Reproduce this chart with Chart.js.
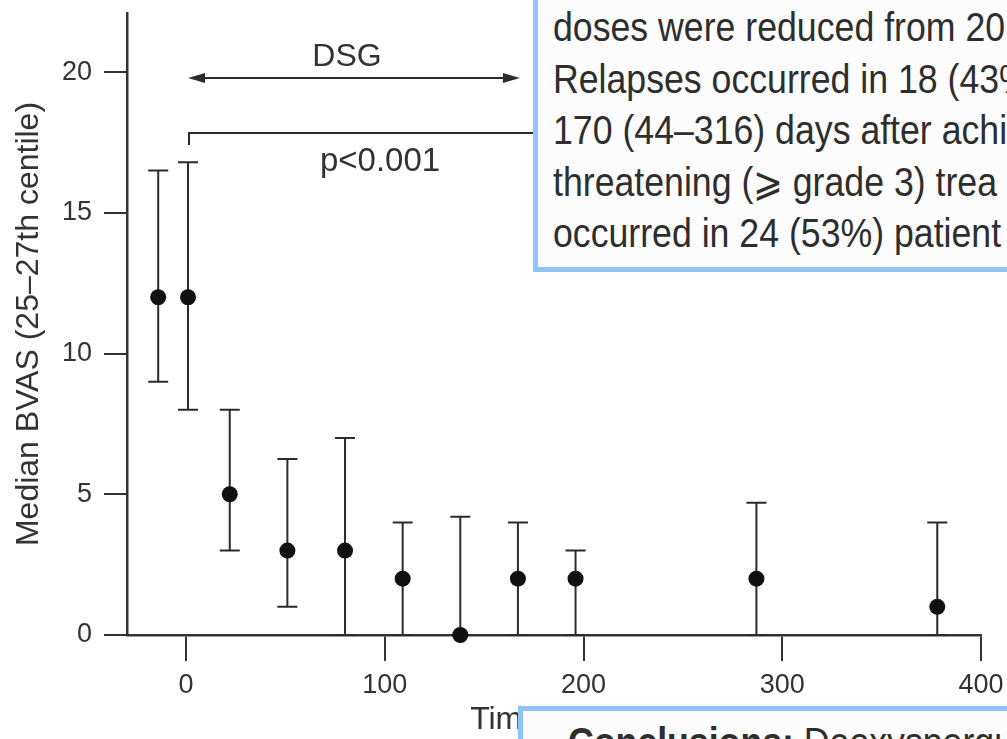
<!DOCTYPE html>
<html>
<head>
<meta charset="utf-8">
<script src="https://cdn.jsdelivr.net/npm/chart.js@4.4.1/dist/chart.umd.min.js"></script>
<style>
  html, body { margin: 0; padding: 0; background: #fff; overflow: hidden; }
  #page { position: relative; width: 1007px; height: 739px; overflow: hidden; }
  #wrap { position: absolute; left: 0; top: 0; width: 1007px; height: 739px; }
  .box { position: absolute; box-sizing: border-box; border: 5px solid #8fc4f8; background: #fcfcfc; }
  .txt { position: absolute; white-space: nowrap; font-family: 'Liberation Sans', Arial, sans-serif;
         font-size: 41px; line-height: 51.5px; color: #2e2e2e; transform: scaleX(0.87); transform-origin: 0 0; }
</style>
</head>
<body>
<div id="page">
  <div id="wrap"><canvas id="chart"></canvas></div>
  <div class="box" style="left:533px; top:-30px; width:600px; height:302px;"></div>
  <div class="txt" style="left:553px; top:2px;">
    <div>doses were reduced from 20</div>
    <div>Relapses occurred in 18 (43%</div>
    <div>170 (44–316) days after achi</div>
    <div>threatening (⩾ grade 3) trea</div>
    <div>occurred in 24 (53%) patient</div>
  </div>
  <div class="box" style="left:518px; top:706px; width:600px; height:100px;"></div>
  <div class="txt" style="left:568px; top:717px;"><b>Conclusions:</b> Deoxyspergu</div>
</div>
<script>
// time since start of treatment (days)
const days = [-14, 1, 22, 51, 80, 109, 138, 167, 196, 287, 378];
// median BVAS and 25th-75th centile range
const medians = [12, 12, 5, 3, 3, 2, 0, 2, 2, 2, 1];
const lower = [9, 8, 3, 1, 0, 0, 0, 0, 0, 0, 0];
const upper = [16.5, 16.8, 8, 6.25, 7, 4, 4.2, 4, 3, 4.7, 4];

const xTicks = [0, 100, 200, 300, 400];
const yTicks = [0, 5, 10, 15, 20];

const INK = '#2b2b2b';
const AXIS = '#333';
const FONT = '"Liberation Sans", Arial, sans-serif';

// error bars drawn from the scales
const errorBars = {
  id: 'errorBars',
  beforeDatasetsDraw(chart) {
    const { ctx, scales: { x, y } } = chart;
    ctx.save();
    ctx.strokeStyle = INK;
    ctx.lineWidth = 2;
    days.forEach((d, i) => {
      const px = x.getPixelForValue(d);
      const lo = y.getPixelForValue(lower[i]);
      const hi = y.getPixelForValue(upper[i]);
      ctx.beginPath();
      ctx.moveTo(px, lo); ctx.lineTo(px, hi);
      ctx.moveTo(px - 10, hi); ctx.lineTo(px + 10, hi);
      ctx.moveTo(px - 10, lo); ctx.lineTo(px + 10, lo);
      ctx.stroke();
    });
    ctx.restore();
  }
};

// DSG arrow and p-value bracket
const notes = {
  id: 'notes',
  afterDraw(chart) {
    const { ctx, scales: { x, y } } = chart;
    ctx.save();
    ctx.strokeStyle = INK;
    ctx.fillStyle = INK;
    ctx.lineWidth = 2;

    const ax1 = x.getPixelForValue(1), ax2 = x.getPixelForValue(168), ay = y.getPixelForValue(19.79);
    ctx.beginPath();
    ctx.moveTo(ax1 + 10, ay); ctx.lineTo(ax2 - 10, ay);
    ctx.stroke();
    const head = (tip, dir) => {
      ctx.beginPath();
      ctx.moveTo(tip, ay);
      ctx.lineTo(tip + dir * 17, ay - 5);
      ctx.lineTo(tip + dir * 17, ay + 5);
      ctx.closePath();
      ctx.fill();
    };
    head(ax1, 1);
    head(ax2, -1);

    const bx = x.getPixelForValue(1.5), by = y.getPixelForValue(17.84), byEnd = y.getPixelForValue(17.41);
    ctx.beginPath();
    ctx.moveTo(bx, byEnd); ctx.lineTo(bx, by); ctx.lineTo(x.getPixelForValue(200), by);
    ctx.stroke();

    ctx.textAlign = 'center';
    ctx.textBaseline = 'middle';
    ctx.fillStyle = '#333';
    ctx.font = '32px ' + FONT;
    ctx.fillText('DSG', x.getPixelForValue(81), y.getPixelForValue(20.54));
    ctx.font = '33px ' + FONT;
    ctx.fillText('p<0.001', x.getPixelForValue(97.6), y.getPixelForValue(16.8));
    ctx.restore();
  }
};

new Chart(document.getElementById('chart'), {
  type: 'scatter',
  data: {
    datasets: [{
      data: days.map((d, i) => ({ x: d, y: medians[i] })),
      pointRadius: 8,
      pointBackgroundColor: '#111',
      pointBorderColor: '#111',
      pointBorderWidth: 0,
      clip: false
    }]
  },
  options: {
    responsive: true,
    maintainAspectRatio: false,
    animation: false,
    layout: { padding: { top: 13, right: 26, left: 0, bottom: 0 } },
    plugins: { legend: { display: false }, tooltip: { enabled: false } },
    scales: {
      x: {
        type: 'linear',
        min: -29.7,
        max: 400,
        afterBuildTicks: s => { s.ticks = xTicks.map(v => ({ value: v })); },
        afterFit: s => { s.height = 104; s.paddingLeft = 0; s.paddingRight = 0; },
        border: { display: true, color: AXIS, width: 2.5 },
        grid: { drawOnChartArea: false, drawTicks: true, tickLength: 26, color: AXIS, lineWidth: 2 },
        ticks: { font: { family: FONT, size: 27 }, color: '#333', padding: 8, maxRotation: 0 },
        title: {
          display: true, text: 'Time (days)', color: '#333',
          font: { family: FONT, size: 32 },
          padding: { top: 0, bottom: 0 }
        }
      },
      y: {
        min: 0,
        max: 22.1,
        afterBuildTicks: s => { s.ticks = yTicks.map(v => ({ value: v })); },
        afterFit: s => { s.width = 127; s.paddingTop = 0; s.paddingBottom = 0; },
        border: { display: true, color: AXIS, width: 2.5 },
        grid: { drawOnChartArea: false, drawTicks: true, tickLength: 23, color: AXIS, lineWidth: 2 },
        ticks: { font: { family: FONT, size: 27 }, color: '#333', padding: 12 },
        title: {
          display: true, text: 'Median BVAS (25–27th centile)', color: '#333',
          font: { family: FONT, size: 32 },
          padding: { top: 10, bottom: 0 }
        }
      }
    }
  },
  plugins: [errorBars, notes]
});
</script>
</body>
</html>
